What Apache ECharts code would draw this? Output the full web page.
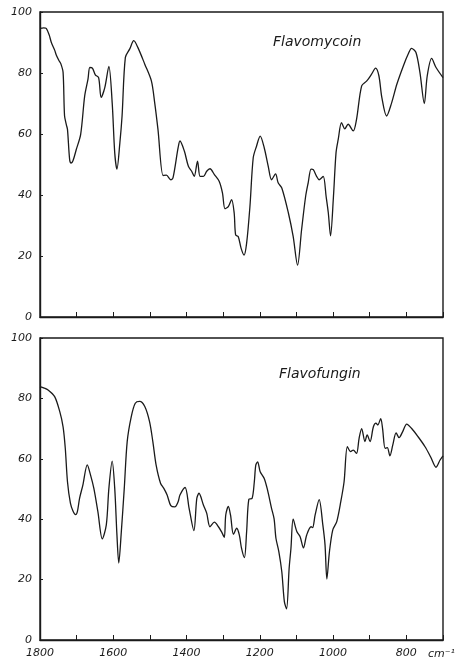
<!DOCTYPE html>
<html>
<head>
<meta charset="utf-8">
<script src="https://cdn.jsdelivr.net/npm/echarts@6/dist/echarts.min.js"></script>
<style>
html,body{margin:0;padding:0;background:#fff;}
#chart{width:463px;height:661px;}
</style>
</head>
<body>
<div id="chart"></div>
<script>
// Wavenumber (cm^-1) and % transmittance
var flavomycoinWn = [1800,1790,1783,1775,1769,1760,1755,1748,1743,1737,1733,1728,1725,1719,1715,1710,1701,1689,1678,1669,1664,1657,1649,1640,1633,1623,1612,1603,1596,1590,1582,1576,1567,1555,1544,1533,1514,1496,1487,1478,1464,1455,1443,1437,1423,1418,1406,1395,1386,1379,1370,1363,1354,1345,1336,1324,1311,1302,1295,1286,1277,1270,1266,1259,1251,1243,1236,1227,1218,1209,1199,1188,1177,1168,1157,1150,1140,1122,1109,1097,1086,1075,1068,1060,1054,1045,1038,1027,1019,1013,1007,999,992,986,977,968,959,945,936,922,908,895,884,875,867,854,840,826,808,795,786,774,763,751,743,731,719,700];
var flavomycoinT = [94.6,94.8,94.6,92.5,90,87.5,85.7,84,83,80.2,66,63,61.5,51.5,50.5,51.2,54.9,59.9,72.5,78,81.8,81.6,79.4,78.5,72,75.3,82.2,70.3,53.8,48.5,57.1,65.9,85.1,87.9,90.6,88.4,82.9,77.4,70.3,61.5,46.4,46.5,45,45.6,55.5,57.7,54.4,49.4,47.8,46.1,51.1,46.1,46.1,47.8,48.6,46.7,44.5,40.7,35.5,36.2,38.5,34.1,26.9,26.4,22.5,20.3,24.2,36.2,52.2,56,59.3,55.5,49.4,45,46.9,44,42.3,34.1,26.4,17,28.6,39.5,44,48.5,48.3,46.1,45,46.1,39.5,34.1,26.6,39.5,53.8,58.2,63.7,61.7,63.2,61,64.8,75.8,77.4,79.6,81.6,79.1,72,65.9,70.3,76.3,82.4,86.2,88.1,86.8,80.2,70,79.1,84.8,81.8,78.5];

var flavofunginWn = [1800,1790,1778,1760,1746,1737,1731,1725,1717,1710,1703,1698,1692,1683,1671,1662,1653,1642,1630,1619,1612,1603,1596,1590,1585,1578,1570,1562,1551,1540,1528,1514,1501,1492,1483,1471,1462,1453,1443,1432,1423,1418,1404,1393,1380,1372,1366,1354,1345,1336,1324,1313,1304,1297,1293,1286,1280,1272,1263,1256,1250,1242,1236,1230,1221,1215,1211,1206,1199,1188,1179,1168,1161,1156,1148,1140,1133,1127,1120,1115,1109,1099,1090,1081,1072,1060,1056,1049,1038,1028,1022,1017,1010,1001,990,979,970,961,952,945,936,929,922,913,907,899,890,883,878,870,865,858,852,845,837,828,820,810,799,786,768,749,734,719,708,700];
var flavofunginT = [83.9,83.5,82.8,80.6,75.6,70.6,63.5,52.4,45.3,42.7,41.5,42.5,46.9,51.3,58,54.6,50.2,42.5,33.5,38.1,50.2,59.2,50.2,34.8,25.5,35.9,50.2,65.7,73.9,78.4,79,77.3,72.3,65.7,57.9,51.9,50.2,48,44.5,44.1,45.8,48,50.5,43.6,36.2,46.9,48.6,44.7,42,37.5,39,37.5,35.7,34,41.4,44.2,41.4,35,37,34.8,30.4,27.3,35.9,46.6,46.9,52.4,57.9,59,55.7,53.5,49.7,43.6,40.1,33.7,29.2,22.6,12.7,10.3,23.7,30.4,40,35.9,34.2,30.5,34.8,37.5,37.2,41.4,46.5,38.1,31.5,20.2,29.2,36.4,39.2,45.8,52.4,64,62.4,62.9,61.8,66.8,70,65.7,67.9,65.7,70.6,71.8,71.2,73.3,70.1,63.5,63.7,61,64.6,68.6,67,69,71.5,70.1,67.3,64,60.7,57.2,59.6,61];

var sampleNames = ['Flavomycoin', 'Flavofungin'];
var xLabelValues = [1800, 1600, 1400, 1200, 1000, 800];
var unitLabel = 'cm\u207B\u00B9';

function pairs(xs, ys) { return xs.map(function (x, i) { return [x, ys[i]]; }); }

var ink = '#1a1a1a';
var labelFont = { fontFamily: 'DejaVu Sans', fontStyle: 'italic', fontSize: 11, color: ink };

function xAxis(idx, showLabels) {
  return {
    type: 'value', gridIndex: idx, inverse: true, min: 700, max: 1800, interval: 100,
    axisLine: { show: true, onZero: false, lineStyle: { color: ink, width: 1.4 } },
    axisTick: { show: true, inside: true, length: 5, lineStyle: { color: ink, width: 1 } },
    splitLine: { show: false },
    axisLabel: Object.assign({
      show: showLabels, margin: 8, showMinLabel: true, showMaxLabel: true,
      formatter: function (v) { return xLabelValues.indexOf(v) >= 0 ? String(v) : ''; }
    }, labelFont)
  };
}
function yAxis(idx) {
  return {
    type: 'value', gridIndex: idx, min: 0, max: 100, interval: 20,
    axisLine: { show: true, onZero: false, lineStyle: { color: ink, width: 1.4 } },
    axisTick: { show: true, inside: true, length: 3, lineStyle: { color: ink, width: 1 } },
    splitLine: { show: false },
    axisLabel: Object.assign({ margin: 8 }, labelFont)
  };
}

var chart = echarts.init(document.getElementById('chart'), null, { renderer: 'canvas' });
chart.setOption({
  backgroundColor: '#ffffff',
  animation: false,
  title: [
    { text: sampleNames[0], left: 273, top: 35, padding: 0,
      textStyle: { fontFamily: 'DejaVu Sans', fontStyle: 'italic', fontWeight: 'normal', fontSize: 14, color: ink } },
    { text: sampleNames[1], left: 279, top: 367, padding: 0,
      textStyle: { fontFamily: 'DejaVu Sans', fontStyle: 'italic', fontWeight: 'normal', fontSize: 14, color: ink } }
  ],
  grid: [
    { left: 40, width: 403, top: 12, height: 305, show: true, borderColor: ink, borderWidth: 1.4, backgroundColor: 'transparent' },
    { left: 40, width: 403, top: 338, height: 302, show: true, borderColor: ink, borderWidth: 1.4, backgroundColor: 'transparent' }
  ],
  xAxis: [xAxis(0, false), xAxis(1, true)],
  yAxis: [yAxis(0), yAxis(1)],
  graphic: [
    { type: 'text', left: 428, top: 649,
      style: { text: unitLabel, font: 'italic 11px "DejaVu Sans"', fill: ink } }
  ],
  series: [
    { name: sampleNames[0], type: 'line', xAxisIndex: 0, yAxisIndex: 0, data: pairs(flavomycoinWn, flavomycoinT),
      showSymbol: false, smooth: 0.3, lineStyle: { color: ink, width: 1.3 } },
    { name: sampleNames[1], type: 'line', xAxisIndex: 1, yAxisIndex: 1, data: pairs(flavofunginWn, flavofunginT),
      showSymbol: false, smooth: 0.3, lineStyle: { color: ink, width: 1.3 } }
  ]
});
</script>
</body>
</html>
